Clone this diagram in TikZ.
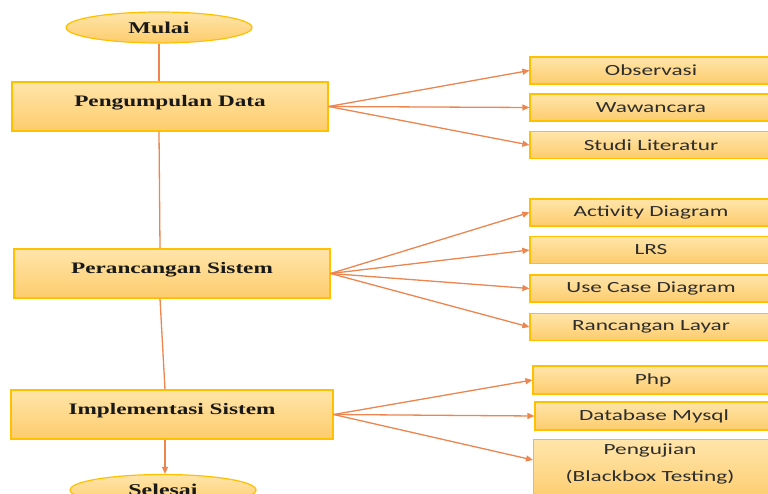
\documentclass[tikz,border=0pt]{standalone}
\usepackage{graphicx}
\usepackage{fontspec}
\setmainfont{Liberation Serif}
\newfontfamily\calib{Carlito}
\usetikzlibrary{arrows.meta,calc,shapes.geometric}
\definecolor{boxline}{RGB}{255,192,0}
\definecolor{boxtop}{RGB}{255,229,170}
\definecolor{boxbot}{RGB}{253,204,108}
\definecolor{conncol}{RGB}{237,133,80}
\definecolor{txtd}{RGB}{25,25,25}
\definecolor{txtr}{RGB}{45,45,45}
\newcommand\wideL[1]{\scalebox{1.45}[1]{#1}}
\newcommand\wideR[1]{\scalebox{1.5}[1]{#1}}
\tikzset{
  mainbox/.style={rectangle, draw=boxline, line width=1.2pt, top color=boxtop, bottom color=boxbot,
    inner sep=0pt, text height=0pt, text depth=0pt, font=\fontsize{16}{18}\selectfont\bfseries, text=txtd},
  subbox/.style={rectangle, draw=boxline, line width=1.2pt, top color=boxtop, bottom color=boxbot,
    inner sep=0pt, minimum width=242pt, minimum height=27pt, font=\calib\fontsize{15.5}{18}\selectfont, text=txtr},
  term/.style={ellipse, draw=boxline, line width=1.2pt, top color=boxtop, bottom color=boxbot,
    inner sep=0pt, minimum width=186pt, minimum height=31pt, font=\fontsize{16.5}{18}\selectfont\bfseries, text=txtd},
  plaintext/.style={inner sep=0pt, align=center, font=\calib\fontsize{15.5}{27}\selectfont, text=txtr},
  connline/.style={draw=conncol, line width=1.3pt},
  arr/.style={connline, -{Triangle[length=7pt,width=6pt]}, fill=conncol},
}
\begin{document}
\begin{tikzpicture}[x=1pt,y=-1pt]
\useasboundingbox (0,0) rectangle (768,494);
\clip (0,0) rectangle (768,494);
% terminals
\node[term] (mulai) at (159,27.5) {\wideL{Mulai}};
\node[term] (selesai) at (163,490) {\wideL{Selesai}};
% main boxes
\node[mainbox, minimum width=316pt, minimum height=49pt] (pd) at (170,106.5) {\wideL{Pengumpulan Data}};
\node[mainbox, minimum width=316pt, minimum height=49pt] (ps) at (172,273.5) {\wideL{Perancangan Sistem}};
\node[mainbox, minimum width=322pt, minimum height=49pt] (is) at (172,414.5) {\wideL{Implementasi Sistem}};
% sub boxes
\node[subbox] (ob) at (651,70.5) {\wideR{Observasi}};
\node[subbox] (ww) at (651,107.5) {\wideR{Wawancara}};
\node[subbox] (sl) at (651,145) {\wideR{Studi Literatur}};
\node[subbox] (ad) at (651,212.5) {\wideR{Activity Diagram}};
\node[subbox] (lrs) at (651,250) {\wideR{LRS}};
\node[subbox] (uc) at (651,288.5) {\wideR{Use Case Diagram}};
\node[subbox] (rl) at (651,327) {\wideR{Rancangan Layar}};
\node[subbox, minimum width=240pt, minimum height=28pt] (php) at (653,380) {\wideR{Php}};
\node[subbox, minimum width=238pt, minimum height=28pt] (db) at (654,416) {\wideR{Database Mysql}};
\node[subbox, minimum width=240pt, minimum height=62pt, anchor=north west] (pj) at (533,439) {};
\node[plaintext] (pjt) at (650,463.5) {\wideR{Pengujian}\\\wideR{(Blackbox Testing)}};
% vertical flow
\draw[connline] (mulai.south) -- (mulai.south |- pd.north);
\draw[connline] (mulai.south |- pd.south) -- ([xshift=1pt]mulai.south |- ps.north);
\draw[connline] ([xshift=1pt]mulai.south |- ps.south) -- ([xshift=2pt]selesai.north |- is.north);
\draw[arr] ([xshift=2pt]selesai.north |- is.south) -- ([xshift=2pt]selesai.north);
% branches
\draw[arr] (pd.east) -- (ob.west);
\draw[arr] (pd.east) -- (ww.west);
\draw[arr] (pd.east) -- (sl.west);
\draw[arr] (ps.east) -- (ad.west);
\draw[arr] (ps.east) -- (lrs.west);
\draw[arr] (ps.east) -- (uc.west);
\draw[arr] (ps.east) -- (rl.west);
\draw[arr] (is.east) -- (php.west);
\draw[arr] (is.east) -- (db.west);
\draw[arr] (is.east) -- ($(pj.north west)+(0,21)$);
\end{tikzpicture}
\end{document}
